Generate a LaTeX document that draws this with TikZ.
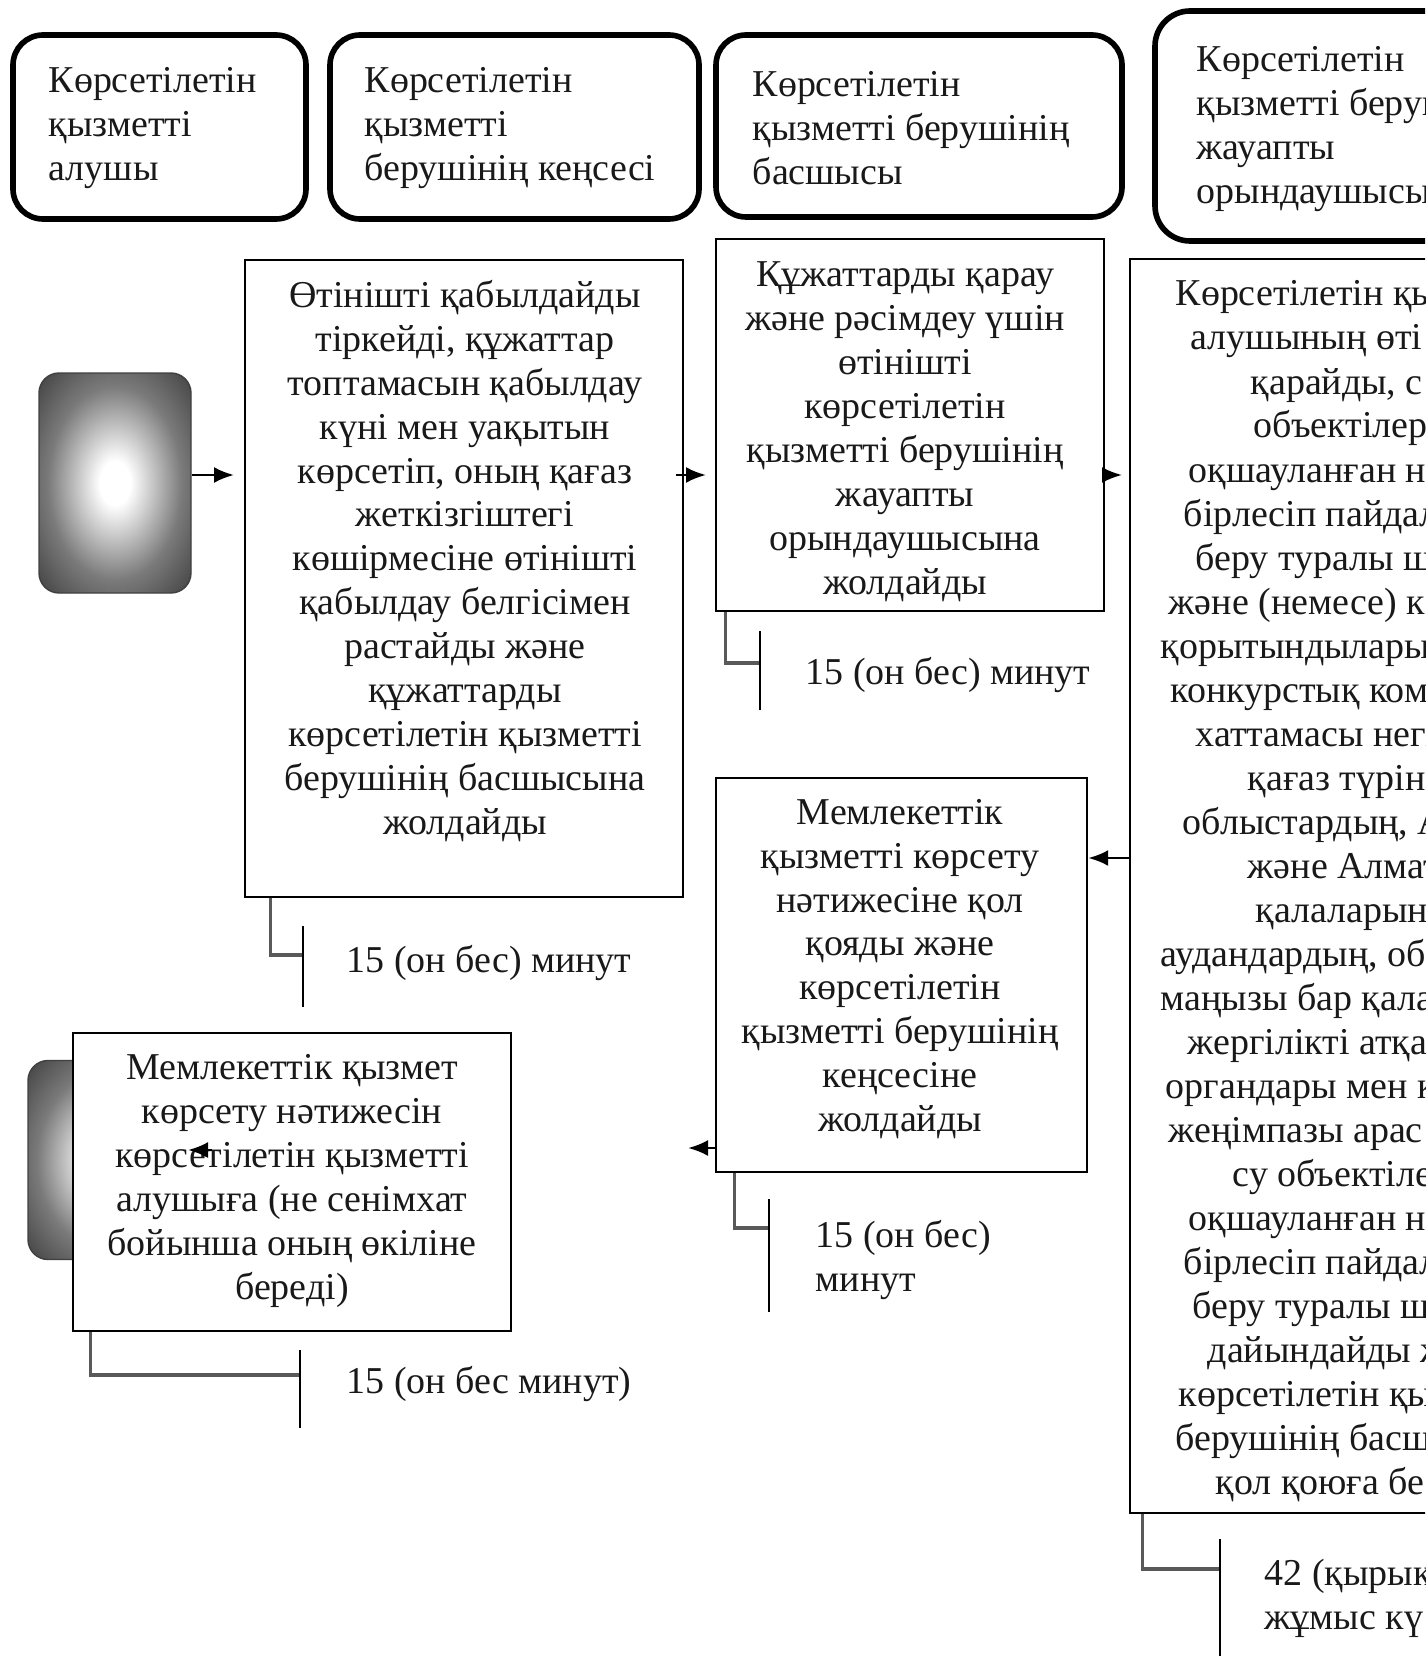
\documentclass[tikz,border=0pt]{standalone}
\usepackage{fontspec}
\setmainfont{Liberation Serif}
\usetikzlibrary{arrows.meta,positioning}
\newcommand{\boxfont}{\fontsize{10.8}{12.5}\selectfont}
\pgfdeclareradialshading{blob}{\pgfpoint{0bp}{0bp}}{color(0bp)=(white); color(5bp)=(white); color(22bp)=(black!52); color(40bp)=(black!82); color(50bp)=(black!90)}

\begin{document}
\begin{tikzpicture}[x=0.1mm,y=-0.1mm]
	\tikzset{head/.style = {draw,rounded corners=3mm,line width=1.6pt,inner sep=0pt}}
	\tikzset{box/.style = {draw,fill=white,line width=0.7pt,inner sep=0pt}}
	\tikzset{txt/.style = {align=center,inner sep=0pt,font=\boxfont,text=black!90}}
	\tikzset{ltxt/.style = {align=left,anchor=west,inner sep=0pt,font=\boxfont,text=black!90}}
	\tikzset{blobbox/.style = {draw=black!75,rounded corners=2mm,shading=blob,minimum width=15.2mm}}
	\tikzstyle{arr} = [-{Latex[length=2mm,width=1.6mm]},line width=0.75pt]
	\tikzstyle{brk} = [draw=black!65,line width=0.9pt]
	\tikzstyle{tline} = [line width=0.6pt]
	\useasboundingbox (0,0) rectangle (1425,1656);
	\clip (0,0) rectangle (1425,1656);
	%headers
	\node[head,minimum width=29.3mm,minimum height=18.4mm] (h1) at (159.5,127) {};
	\node[head,minimum width=36.9mm,minimum height=18.4mm] (h2) at (514.5,127) {};
	\node[head,minimum width=40.6mm,minimum height=18.2mm] (h3) at (919,126) {};
	\node[head,rounded corners=3.5mm,minimum width=40mm,minimum height=23mm] (h4) at (1355,126) {};
	\node[ltxt] (h1t) at (48,128) {Көрсетілетін\\қызметті\\алушы};
	\node[ltxt] (h2t) at (364,128) {Көрсетілетін\\қызметті\\берушінің кеңсесі};
	\node[ltxt] (h3t) at (752,128) {Көрсетілетін\\қызметті берушінің\\басшысы};
	\node[ltxt] (h4t) at (1196,129) {Көрсетілетін\\қызметті беруш\\жауапты\\орындаушысы};
	%start and end
	\node[blobbox,minimum height=22mm] (st) at (115,483) {};
	\node[blobbox,minimum height=19.9mm] (en) at (104,1160) {};
	%boxes
	\node[box,minimum width=43.8mm,minimum height=63.7mm] (b1) at (464,578.5) {};
	\node[box,minimum width=38.8mm,minimum height=37.2mm] (b2) at (910,425) {};
	\node[box,minimum width=57mm,minimum height=125.4mm] (b3) at (1415,886) {};
	\node[box,minimum width=37.1mm,minimum height=39.4mm] (b4) at (901.5,975) {};
	\node[box,minimum width=43.8mm,minimum height=29.8mm] (b5) at (292,1182) {};
	\node[txt] (b1t) at (465,561) {Өтінішті қабылдайды\\тіркейді, құжаттар\\топтамасын қабылдау\\күні мен уақытын\\көрсетіп, оның қағаз\\жеткізгіштегі\\көшірмесіне өтінішті\\қабылдау белгісімен\\растайды және\\құжаттарды\\көрсетілетін қызметті\\берушінің басшысына\\жолдайды};
	\node[txt] (b2t) at (905,432) {Құжаттарды қарау\\және рәсімдеу үшін\\өтінішті\\көрсетілетін\\қызметті берушінің\\жауапты\\орындаушысына\\жолдайды};
	\node[txt] (b4t) at (900,969) {Мемлекеттік\\қызметті көрсету\\нәтижесіне қол\\қояды және\\көрсетілетін\\қызметті берушінің\\кеңсесіне\\жолдайды};
	\node[txt] (b5t) at (292,1181) {Мемлекеттік қызмет\\көрсету нәтижесін\\көрсетілетін қызметті\\алушыға (не сенімхат\\бойынша оның өкіліне\\береді)};
	\foreach \rx/\rtext [count=\i from 0] in {1175/Көрсетілетін қы, 1190/алушының өті, 1250/{қарайды, с}, 1253/объектілер,
		1188/оқшауланған н, 1183/бірлесіп пайдал, 1195/беру туралы ш, 1168/және (немесе) к, 1160/қорытындылары,
		1170/конкурстық ком, 1195/хаттамасы негі, 1247/қағаз түрін, 1182/{облыстардың, А}, 1247/және Алмат,
		1255/қалаларын, 1160/{аудандардың, об}, 1160/маңызы бар қала, 1187/жергілікті атқа, 1165/органдары мен к,
		1168/жеңімпазы арас, 1232/су объектіле, 1188/оқшауланған н, 1183/бірлесіп пайдал, 1192/беру туралы ш,
		1207/дайындайды ж, 1178/көрсетілетін қы, 1175/берушінің басш, 1215/қол қоюға бе}
		\node[ltxt,anchor=base west] (r\i) at (\rx,306+44*\i) {\rtext};
	%arrows
	\coordinate (a1) at (234,475);
	\coordinate (a2) at (706,475);
	\coordinate (a3) at (1122,475);
	\coordinate (a4) at (1110,858);
	\coordinate (a5) at (688,1148);
	\coordinate (a6s) at (212,1150);
	\coordinate (a6) at (188,1150);
	\draw[arr] (a1 -| st.east) -- (a1);
	\draw[arr] ([xshift=-0.8mm]a2 -| b1.east) -- (a2);
	\draw[arr] (a3 -| b2.east) -- (a3);
	\draw[arr] (a4 -| b3.west) -- (a4 -| b4.east);
	\draw[arr] (a5 -| b4.west) -- (a5);
	\draw[arr] (a6s) -- (a6);
	%times
	\coordinate (k1) at (303,955);
	\coordinate (k2) at (760,663);
	\coordinate (k3) at (1220,1569);
	\coordinate (k4) at (769,1228);
	\coordinate (k5) at (300,1375);
	\draw[brk] ([xshift=2.7mm]b1.south west) |- (k1);
	\draw[brk] ([xshift=1.1mm]b2.south west) |- (k2);
	\draw[brk] ([xshift=1.4mm]b3.south west) |- (k3);
	\draw[brk] ([xshift=2mm]b4.south west) |- (k4);
	\draw[brk] ([xshift=1.9mm]b5.south west) |- (k5);
	\draw[tline] (k1) ++(0,-29) -- ++(0,81);
	\draw[tline] (k2) ++(0,-32) -- ++(0,79);
	\draw[tline] (k3) ++(0,-30) -- ++(0,130);
	\draw[tline] (k4) ++(0,-29) -- ++(0,113);
	\draw[tline] (k5) ++(0,-25) -- ++(0,78);
	\node[ltxt] (l1) at (346,963) {15 (он бес) минут};
	\node[ltxt] (l2) at (805,675) {15 (он бес) минут};
	\node[ltxt] (l3) at (1264,1598) {42 (қырық\\жұмыс кү};
	\node[ltxt] (l4) at (815,1260) {15 (он бес)\\минут};
	\node[ltxt] (l5) at (346,1384) {15 (он бес минут)};
\end{tikzpicture}
\end{document}
